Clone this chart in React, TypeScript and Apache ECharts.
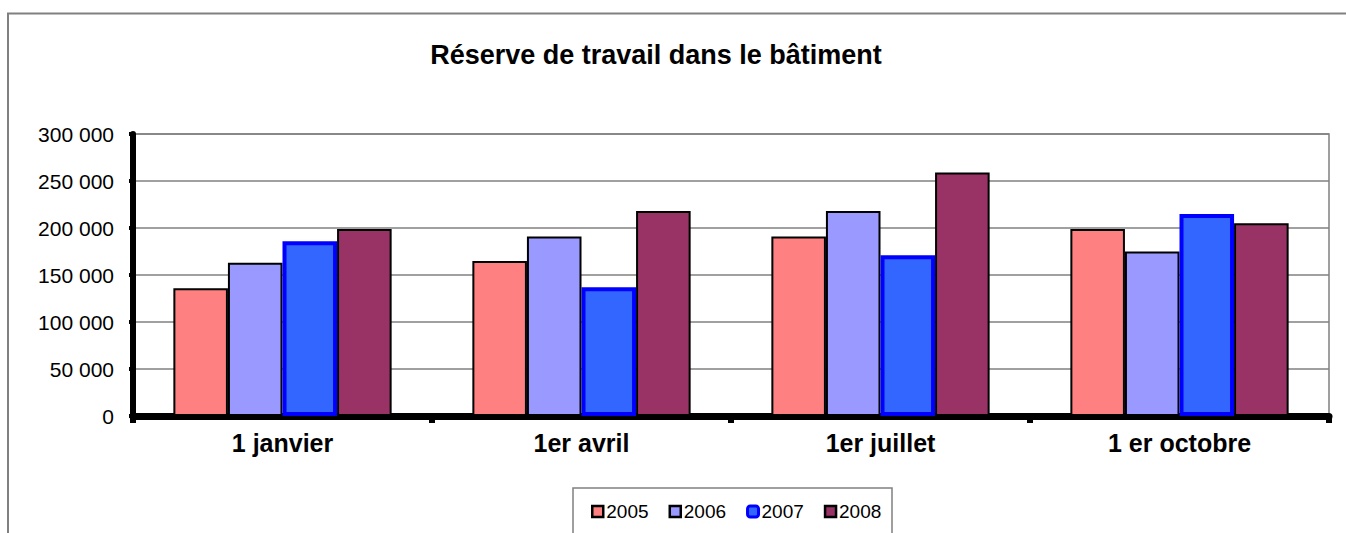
import React, { useEffect, useRef } from "react";
import * as echarts from "echarts";

const categories = ["1 janvier", "1er avril", "1er juillet", "1 er octobre"];
const seriesNames = ["2005", "2006", "2007", "2008"];
const v2005 = [136000, 165000, 191000, 199000];
const v2006 = [163000, 191000, 218000, 175000];
const v2007 = [186000, 137000, 171000, 215000];
const v2008 = [199000, 218000, 259000, 205000];
const yTicks = [0, 50000, 100000, 150000, 200000, 250000, 300000];

const fills = ["#FF8080", "#9999FF", "#3366FF", "#993366"];
const borders = ["#000000", "#000000", "#0000FF", "#000000"];
const borderWidths = [2, 2, 4, 2];

const FONT = "'Liberation Sans', Arial, sans-serif";

function fmt(v: number): string {
  if (v === 0) return "0";
  const s = String(v);
  return s.replace(/\B(?=(\d{3})+(?!\d))/g, " ");
}

export default function App() {
  const ref = useRef<HTMLDivElement>(null);
  useEffect(() => {
    if (!ref.current) return;
    const chart = echarts.init(ref.current, undefined, { renderer: "svg" });
    const values = [v2005, v2006, v2007, v2008];
    chart.setOption({
      animation: false,
      backgroundColor: "#ffffff",
      textStyle: { fontFamily: FONT },
      grid: {
        left: 133,
        right: 17,
        top: 134,
        bottom: 117,
        show: true,
        borderColor: "#808080",
        borderWidth: 1.5,
        containLabel: false,
      },
      graphic: [
        {
          type: "rect",
          shape: { x: 8, y: 13.5, width: 1500, height: 700 },
          style: { fill: "none", stroke: "#808080", lineWidth: 2 },
          silent: true,
          z: -10,
        },
        {
          type: "rect",
          shape: { x: 573, y: 488, width: 319, height: 100 },
          style: { fill: "#ffffff", stroke: "#808080", lineWidth: 1.5 },
          silent: true,
          z: -5,
        },
        {
          type: "text",
          x: 656,
          y: 55,
          style: {
            text: "Réserve de travail dans le bâtiment",
            font: "bold 27px " + FONT,
            fill: "#000000",
            textAlign: "center",
            textVerticalAlign: "middle",
          },
        },
      ],
      legend: {
        left: 591,
        top: 502,
        padding: 0,
        itemGap: 20,
        itemWidth: 11,
        itemHeight: 11,
        textStyle: { fontSize: 19, color: "#000000", fontFamily: FONT, padding: [0, 0, 0, -2] },
        data: seriesNames.map((n, i) => ({
          name: n,
          icon: i === 2 ? "roundRect" : "rect",
          itemStyle: { color: fills[i], borderColor: borders[i], borderWidth: i === 2 ? 3 : 2.5 },
        })),
      },
      xAxis: {
        type: "category",
        data: categories,
        axisLine: { show: true, lineStyle: { color: "#000000", width: 7 } },
        axisTick: { show: true, length: 7, lineStyle: { color: "#000000", width: 6 } },
        axisLabel: {
          fontSize: 25,
          fontWeight: "bold",
          color: "#000000",
          margin: 14,
          fontFamily: FONT,
        },
        splitLine: { show: false },
      },
      yAxis: {
        type: "value",
        min: 0,
        max: 300000,
        interval: 50000,
        axisLine: { show: true, lineStyle: { color: "#000000", width: 6 } },
        axisTick: { show: true, length: 4, lineStyle: { color: "#000000", width: 4 } },
        axisLabel: {
          fontSize: 21,
          color: "#000000",
          margin: 19,
          fontFamily: FONT,
          formatter: (v: number) => (yTicks.includes(v) ? fmt(v) : ""),
        },
        splitLine: { show: true, lineStyle: { color: "#808080", width: 1.5 } },
      },
      series: seriesNames.map((n, i) => ({
        name: n,
        type: "bar",
        data: values[i],
        barGap: "0%",
        barCategoryGap: "27%",
        itemStyle: {
          color: fills[i],
          borderColor: borders[i],
          borderWidth: borderWidths[i],
        },
      })),
    });
    return () => chart.dispose();
  }, []);
  return (
    <div
      ref={ref}
      style={{ position: "absolute", left: 0, top: 0, width: 1346, height: 533 }}
    />
  );
}
